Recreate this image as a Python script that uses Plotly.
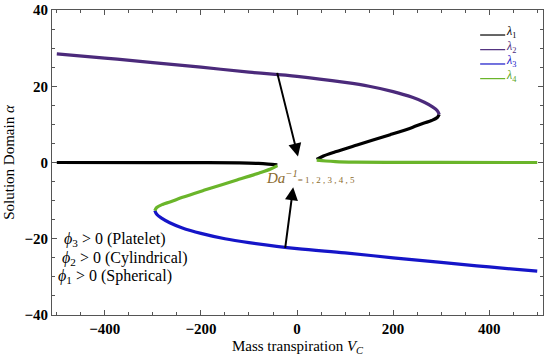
import plotly.graph_objects as go

# --- data ---
# lambda2 (purple): upper branch up to the fold
l2_x = [-500, -400, -300, -200, -100, 0, 100, 150, 200, 240, 265, 282, 292, 296]
l2_y = [28.5, 27.4, 26.2, 25.0, 23.7, 22.6, 21.0, 20.0, 18.6, 17.1, 15.8, 14.6, 13.6, 12.6]
# lambda1 (black): fold to right tip, and left near-zero branch
l1r_x = [296, 292, 280, 263, 240, 194, 125, 80, 55, 41]
l1r_y = [12.6, 11.8, 11.0, 10.3, 9.2, 7.3, 4.6, 2.8, 1.7, 0.8]
l1l_x = [-500, -300, -200, -120, -80, -60, -41]
l1l_y = [0.0, -0.02, -0.05, -0.12, -0.25, -0.4, -0.6]
# lambda3 (blue): lower branch from fold to right
l3_x = [-296, -292, -282, -265, -240, -200, -150, -100, 0, 100, 200, 300, 400, 500]
l3_y = [-12.6, -13.6, -14.6, -15.8, -17.1, -18.6, -20.0, -21.0, -22.6, -23.7, -25.0, -26.2, -27.4, -28.5]
# lambda4 (green): left tip to fold, and right near-zero branch
l4l_x = [-41, -55, -80, -125, -194, -240, -263, -280, -292, -296]
l4l_y = [-0.8, -1.7, -2.8, -4.6, -7.3, -9.2, -10.3, -11.0, -11.8, -12.6]
l4r_x = [41, 60, 80, 120, 200, 300, 500]
l4r_y = [0.6, 0.4, 0.25, 0.12, 0.05, 0.02, 0.0]

x_ticks = [-400, -200, 0, 200, 400]
x_tick_text = ["\u2212400", "\u2212200", "0", "200", "400"]
y_ticks = [-40, -20, 0, 20, 40]
y_tick_text = ["\u221240", "\u221220", "0", "20", "40"]

legend_names = ["<i>\u03bb</i><sub>1</sub>", "<i>\u03bb</i><sub>2</sub>",
                "<i>\u03bb</i><sub>3</sub>", "<i>\u03bb</i><sub>4</sub>"]

C1, C2, C3, C4 = "#000000", "#4B2A7B", "#1515C8", "#6AB52A"
W = 3.2
SERIF = "Liberation Serif"

fig = go.Figure()
for xs, ys, col in [(l1l_x, l1l_y, C1), (l1r_x, l1r_y, C1), (l2_x, l2_y, C2),
                    (l3_x, l3_y, C3), (l4l_x, l4l_y, C4), (l4r_x, l4r_y, C4)]:
    fig.add_trace(go.Scatter(x=xs, y=ys, mode="lines", showlegend=False,
                             line=dict(color=col, width=W, shape="spline")))

# manual legend (top right), line samples with labels
leg_y = [0.918, 0.870, 0.823, 0.775]
for name, col, yy in zip(legend_names, [C1, C2, C3, C4], leg_y):
    fig.add_shape(type="line", xref="paper", yref="paper", x0=0.872, x1=0.923, y0=yy, y1=yy,
                  line=dict(color=col, width=1.2))
    fig.add_annotation(x=0.921, y=yy + 0.010, xref="paper", yref="paper", showarrow=False,
                       xanchor="left", yanchor="middle", text=name,
                       font=dict(family=SERIF, size=12, color=col if col != C4 else "#5aa51a"))

# arrows
fig.add_annotation(x=2, y=1.6, ax=-42, ay=23.9, xref="x", yref="y", axref="x", ayref="y",
                   showarrow=True, arrowhead=2, arrowsize=1.3, arrowwidth=2, arrowcolor="black", text="")
fig.add_annotation(x=-8, y=-6.5, ax=-25, ay=-22.8, xref="x", yref="y", axref="x", ayref="y",
                   showarrow=True, arrowhead=2, arrowsize=1.3, arrowwidth=2, arrowcolor="black", text="")
fig.add_annotation(x=28, y=-3.7, xref="x", yref="y", showarrow=False,
                   text="<i>Da</i><sup><i>\u22121</i></sup><span style='font-size:9px'>= 1 , 2 , 3 , 4 , 5</span>",
                   font=dict(family=SERIF, size=15, color="#8B6B2E"))

# left texts
for txt, yy, xx in [("<i>\u03d5</i><sub>3</sub> > 0 (Platelet)", -20.2, -490),
                    ("<i>\u03d5</i><sub>2</sub> > 0 (Cylindrical)", -25.2, -493),
                    ("<i>\u03d5</i><sub>1</sub> > 0 (Spherical)", -30.0, -502)]:
    fig.add_annotation(x=xx, y=yy, xref="x", yref="y", showarrow=False, xanchor="left",
                       text=txt, font=dict(family=SERIF, size=16, color="black"))

axis_common = dict(showgrid=False, zeroline=False, showline=True, linecolor="#555", linewidth=1,
                   mirror="ticks", ticks="inside", ticklen=5, tickcolor="#555", automargin=False,
                   tickfont=dict(family=SERIF, size=15, color="black", weight="bold"))
fig.update_xaxes(range=[-510, 512], tickvals=x_ticks, ticktext=x_tick_text,
                 minor=dict(dtick=50, ticks="inside", ticklen=3, tickcolor="#555"),
                 title=dict(text="Mass transpiration <i>V<sub>C</sub></i>",
                            font=dict(family=SERIF, size=15, color="black"), standoff=4),
                 **axis_common)
fig.update_yaxes(range=[-40, 40], tickvals=y_ticks, ticktext=y_tick_text,
                 minor=dict(dtick=5, ticks="inside", ticklen=3, tickcolor="#555"),
                 title=dict(text="Solution Domain <i>\u03b1</i>",
                            font=dict(family=SERIF, size=15, color="black"), standoff=6),
                 **axis_common)

fig.update_layout(width=550, height=357, margin=dict(l=52, r=7, t=10, b=42),
                  plot_bgcolor="white", paper_bgcolor="white", showlegend=False)
fig.write_html("out.html", config={"displayModeBar": False},
               post_script="document.body.style.margin='0';")
